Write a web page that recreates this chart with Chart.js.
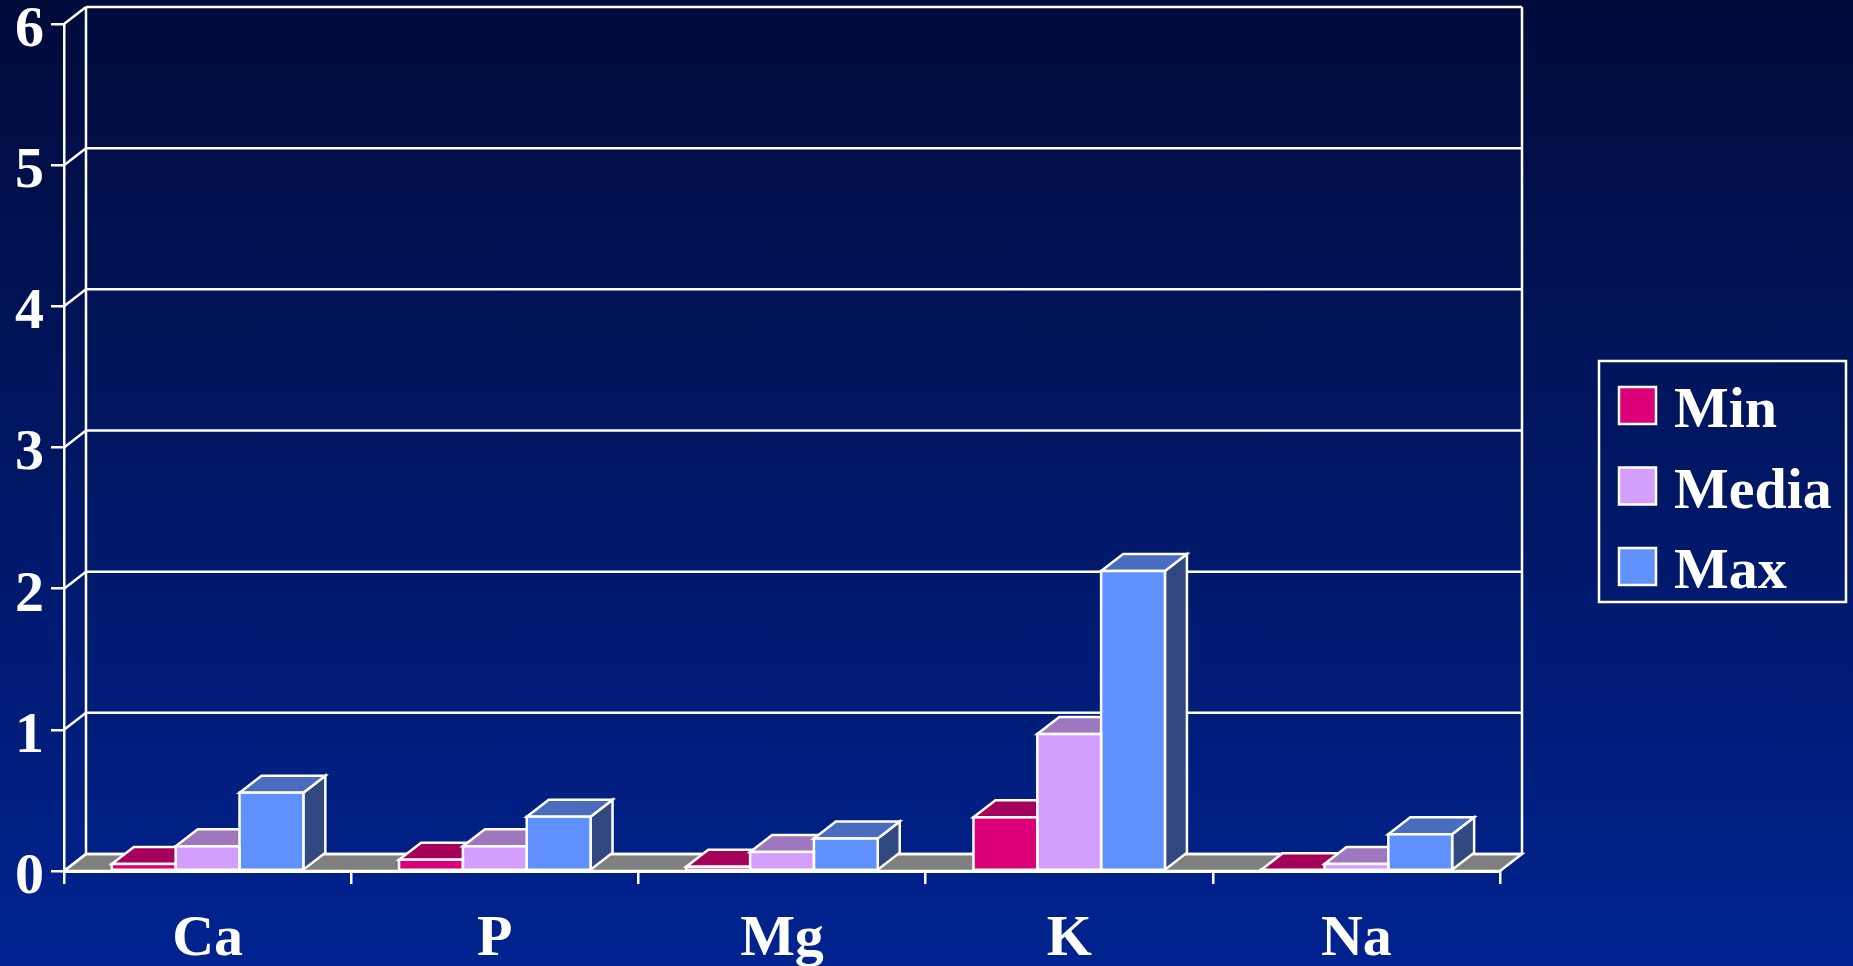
<!DOCTYPE html>
<html>
<head>
<meta charset="utf-8">
<title>Min Media Max</title>
<script src="https://cdn.jsdelivr.net/npm/chart.js@4"></script>
<style>
    html, body { margin: 0; padding: 0; width: 1853px; height: 966px; overflow: hidden; }
    body { background: linear-gradient(to bottom, #000b3a 0%, #002390 100%); }
    canvas { display: block; }
</style>
</head>
<body>
<canvas id="chart" width="1853" height="966"></canvas>
<script>
const categories = ['Ca', 'P', 'Mg', 'K', 'Na'];
const minValues = [0.05, 0.08, 0.03, 0.38, 0.005];
const mediaValues = [0.175, 0.175, 0.135, 0.97, 0.05];
const maxValues = [0.555, 0.385, 0.23, 2.125, 0.26];

const DX = 22;   // depth of the fake 3d box
const DY = 17;
const LINE = 2.5;
const WHITE = '#ffffff';
const SERIF = '"Liberation Serif", "Times New Roman", serif';
const FONT_SIZE = 58;

// front / top / side colours per series
const colors = [
    { front: '#dc0078', top: '#a5005a', side: '#6e003c' },
    { front: '#d49eff', top: '#9f77bf', side: '#6a4f80' },
    { front: '#6190ff', top: '#496cbf', side: '#314880' }
];

function poly(ctx, pts, fill) {
    ctx.beginPath();
    pts.forEach((p, i) => i ? ctx.lineTo(p[0], p[1]) : ctx.moveTo(p[0], p[1]));
    ctx.closePath();
    if (fill) {
        ctx.fillStyle = fill;
        ctx.fill();
    }
    ctx.lineWidth = LINE;
    ctx.strokeStyle = WHITE;
    ctx.lineJoin = 'miter';
    ctx.stroke();
}

function line(ctx, x1, y1, x2, y2) {
    ctx.beginPath();
    ctx.moveTo(x1, y1);
    ctx.lineTo(x2, y2);
    ctx.lineWidth = LINE;
    ctx.strokeStyle = WHITE;
    ctx.stroke();
}

// the y labels sit a bit under their ticks in the original
function nudgeLabels(scale, dy) {
    if (scale._nudged) return;
    scale._nudged = true;
    const draw = scale.drawLabels;
    scale.drawLabels = function (area) {
        this.ctx.save();
        this.ctx.translate(0, dy);
        draw.call(this, area);
        this.ctx.restore();
    };
}

// back wall, floor and the gridlines
const wallPlugin = {
    id: 'wall',
    beforeDraw(chart) {
        const { ctx, chartArea: a, scales: { y } } = chart;
        ctx.save();
        poly(ctx, [[a.left, a.bottom], [a.right, a.bottom], [a.right + DX, a.bottom - DY], [a.left + DX, a.bottom - DY]], '#808080');
        y.ticks.forEach(t => {
            const py = y.getPixelForValue(t.value);
            line(ctx, a.left, py, a.left + DX, py - DY);
            line(ctx, a.left + DX, py - DY, a.right + DX, py - DY);
        });
        line(ctx, a.left + DX, a.top - DY, a.left + DX, a.bottom - DY);
        line(ctx, a.right + DX, a.top - DY, a.right + DX, a.bottom - DY);
        ctx.restore();
    }
};

// tops and sides go under the fronts that chart.js draws
const boxPlugin = {
    id: 'box',
    beforeDatasetsDraw(chart) {
        const ctx = chart.ctx;
        ctx.save();
        categories.forEach((c, i) => {
            chart.data.datasets.forEach((ds, d) => {
                const bar = chart.getDatasetMeta(d).data[i];
                const l = bar.x - bar.width / 2;
                const r = bar.x + bar.width / 2;
                poly(ctx, [[r, bar.y], [r + DX, bar.y - DY], [r + DX, bar.base - DY], [r, bar.base]], colors[d].side);
                poly(ctx, [[l, bar.y], [l + DX, bar.y - DY], [r + DX, bar.y - DY], [r, bar.y]], colors[d].top);
            });
        });
        ctx.restore();
    },
    afterDatasetsDraw(chart) {
        const ctx = chart.ctx;
        ctx.save();
        chart.data.datasets.forEach((ds, d) => {
            chart.getDatasetMeta(d).data.forEach(bar => {
                ctx.lineWidth = LINE;
                ctx.strokeStyle = WHITE;
                ctx.strokeRect(bar.x - bar.width / 2, bar.y, bar.width, bar.base - bar.y);
            });
        });
        ctx.restore();
    }
};

// legend box, the stock one can't do the frame
const legendPlugin = {
    id: 'legendBox',
    afterDraw(chart) {
        const ctx = chart.ctx;
        ctx.save();
        ctx.lineWidth = LINE;
        ctx.strokeStyle = WHITE;
        ctx.strokeRect(1599, 361, 247, 241);
        ctx.font = 'bold ' + FONT_SIZE + 'px ' + SERIF;
        ctx.textBaseline = 'alphabetic';
        chart.data.datasets.forEach((ds, d) => {
            const top = 387 + d * 80.5;
            ctx.fillStyle = colors[d].front;
            ctx.fillRect(1619, top, 37, 37);
            ctx.strokeRect(1619, top, 37, 37);
            ctx.fillStyle = WHITE;
            ctx.fillText(ds.label, 1674, top + 40);
        });
        ctx.restore();
    }
};

new Chart(document.getElementById('chart'), {
    type: 'bar',
    data: {
        labels: categories,
        datasets: [
            { label: 'Min', data: minValues, backgroundColor: colors[0].front },
            { label: 'Media', data: mediaValues, backgroundColor: colors[1].front },
            { label: 'Max', data: maxValues, backgroundColor: colors[2].front }
        ]
    },
    options: {
        responsive: false,
        animation: false,
        layout: { padding: { left: 0, top: 24, right: 353, bottom: 0 } },
        datasets: { bar: { categoryPercentage: 0.6667, barPercentage: 1, borderWidth: 0 } },
        plugins: { legend: { display: false }, tooltip: { enabled: false } },
        scales: {
            x: {
                afterFit(s) { s.height = 95; s.paddingLeft = 0; s.paddingRight = 0; },
                border: { display: true, color: WHITE, width: 3 },
                grid: { drawOnChartArea: false, drawTicks: true, tickLength: 13, color: WHITE, lineWidth: LINE },
                ticks: { color: WHITE, padding: 21, maxRotation: 0, font: { family: SERIF, size: FONT_SIZE, weight: 'bold' } }
            },
            y: {
                min: 0,
                max: 6,
                afterFit(s) { s.width = 64; s.paddingTop = 0; s.paddingBottom = 0; nudgeLabels(s, 7); },
                border: { display: true, color: WHITE, width: LINE },
                grid: { drawOnChartArea: false, drawTicks: true, tickLength: 13, color: WHITE, lineWidth: LINE },
                ticks: { stepSize: 1, color: WHITE, padding: 7, font: { family: SERIF, size: FONT_SIZE, weight: 'bold' } }
            }
        }
    },
    plugins: [wallPlugin, boxPlugin, legendPlugin]
});
</script>
</body>
</html>
